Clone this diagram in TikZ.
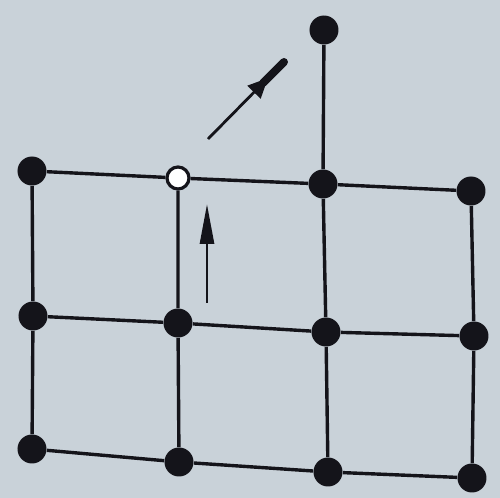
\documentclass[tikz,border=0pt]{standalone}
\usepackage{tikz}
\usetikzlibrary{arrows.meta}
\definecolor{paper}{RGB}{201,210,217}
\definecolor{ink}{RGB}{20,20,26}

\begin{document}
\begin{tikzpicture}[x=0.5pt,y=-0.5pt,
    dot/.style={circle,fill=ink,inner sep=0pt,minimum size=14.5pt},
    hole/.style={circle,draw=ink,fill=white,line width=1.6pt,inner sep=0pt,minimum size=11pt},
    bar/.style={ink,line width=1.7pt}]
    \fill[paper] (0,0) rectangle (500,498);

    % dots
    \node[dot] (t) at (324,30) {};
    \node[dot] (a1) at (32,171) {};
    \node[hole] (a2) at (178,178) {};
    \node[dot] (a3) at (323,184) {};
    \node[dot] (a4) at (471,191) {};
    \node[dot] (b1) at (33,316) {};
    \node[dot] (b2) at (178,323) {};
    \node[dot] (b3) at (326,332) {};
    \node[dot] (b4) at (474,336) {};
    \node[dot] (c1) at (32,449) {};
    \node[dot] (c2) at (179,462) {};
    \node[dot] (c3) at (328,472) {};
    \node[dot] (c4) at (472,478) {};

    % grid
    \foreach \r in {a,b,c}
        \draw[bar] (\r1) -- (\r2) -- (\r3) -- (\r4);
    \draw[bar] (a1) -- (b1) -- (c1);
    \draw[bar] (a2) -- (b2) -- (c2);
    \draw[bar] (t) -- (a3) -- (b3) -- (c3);
    \draw[bar] (a4) -- (b4) -- (c4);

    % arrows
    \coordinate (v0) at (207,303);
    \coordinate (v1) at (207,204);
    \draw[ink,line width=1.4pt,-{Triangle[length=20pt,width=7pt]}] (v0) -- (v1);
    \coordinate (d0) at (208,139);
    \coordinate (dm) at (268,78);
    \coordinate (d1) at (284,62);
    \draw[ink,line width=1.4pt,-{Triangle[length=10pt,width=9pt]}] (d0) -- (dm);
    \draw[ink,line width=4pt,line cap=round] (263,83) -- (d1);
\end{tikzpicture}
\end{document}
